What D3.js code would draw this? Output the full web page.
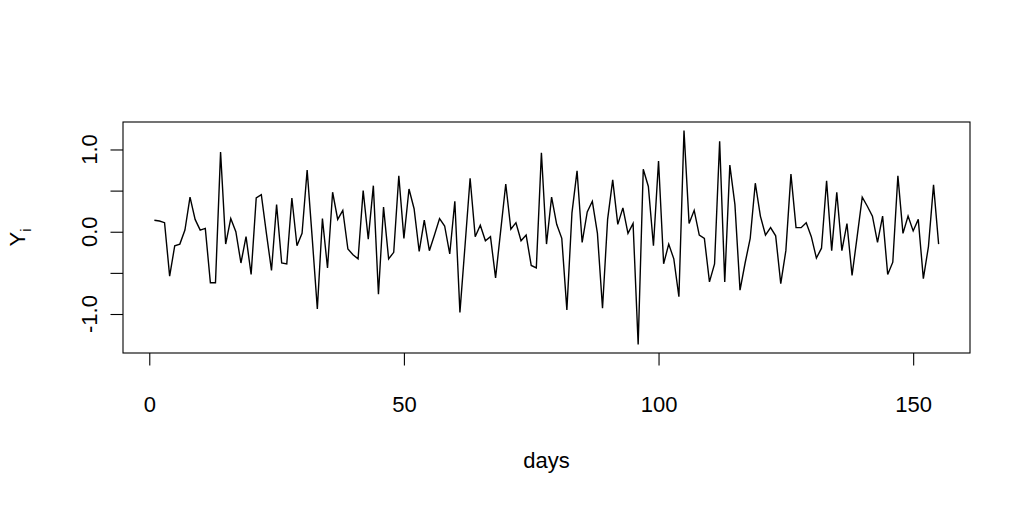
<!DOCTYPE html>
<html>
<head>
<meta charset="utf-8">
<script src="https://cdn.jsdelivr.net/npm/d3@7"></script>
<style>
  body { margin: 0; background: #fff; }
  svg text { font-family: "Liberation Sans", Arial, Helvetica, sans-serif; fill: #000; }
</style>
</head>
<body>
<svg id="chart" width="1034" height="507"></svg>
<script>
// daily values Y_i, day 1..155
const yValues = [
  0.14, 0.13, 0.11, -0.54, -0.17, -0.15, 0.02, 0.42, 0.15, 0.02,
  0.04, -0.62, -0.62, 0.97, -0.15, 0.16, 0.00, -0.38, -0.06, -0.52,
  0.41, 0.45, -0.02, -0.47, 0.33, -0.38, -0.39, 0.41, -0.17, -0.02,
  0.75, -0.08, -0.94, 0.16, -0.44, 0.48, 0.15, 0.26, -0.21, -0.28,
  -0.33, 0.50, -0.09, 0.56, -0.76, 0.30, -0.33, -0.25, 0.68, -0.08,
  0.52, 0.28, -0.24, 0.14, -0.23, -0.04, 0.16, 0.07, -0.27, 0.37,
  -0.98, -0.17, 0.65, -0.06, 0.08, -0.11, -0.06, -0.56, 0.01, 0.58,
  0.03, 0.11, -0.11, -0.04, -0.41, -0.44, 0.96, -0.15, 0.42, 0.09,
  -0.08, -0.95, 0.23, 0.74, -0.13, 0.24, 0.37, -0.02, -0.93, 0.15,
  0.63, 0.09, 0.29, -0.02, 0.10, -1.37, 0.76, 0.55, -0.17, 0.86,
  -0.39, -0.15, -0.33, -0.79, 1.23, 0.10, 0.26, -0.04, -0.08, -0.61,
  -0.39, 1.10, -0.61, 0.81, 0.33, -0.71, -0.38, -0.08, 0.59, 0.19,
  -0.04, 0.05, -0.05, -0.63, -0.23, 0.70, 0.05, 0.05, 0.11, -0.06,
  -0.32, -0.20, 0.62, -0.23, 0.48, -0.23, 0.10, -0.53, -0.06, 0.42,
  0.31, 0.19, -0.13, 0.19, -0.52, -0.37, 0.68, -0.02, 0.19, 0.01,
  0.15, -0.57, -0.18, 0.57, -0.15
];
const days = yValues.map((d, i) => i + 1);

const xTicks = [0, 50, 100, 150];
const yTicks = [-1, -0.5, 0, 0.5, 1];
const yTickLabels = ["-1.0", "", "0.0", "", "1.0"];

const svg = d3.select("#chart");
const plotLeft = 123, plotRight = 970, plotTop = 122, plotBottom = 353;
const fontSize = 22;

// R style: pad the data range by 4% on each side
function padded(ext) {
  const r = ext[1] - ext[0];
  return [ext[0] - 0.04 * r, ext[1] + 0.04 * r];
}

const x = d3.scaleLinear().domain(padded(d3.extent(days))).range([plotLeft, plotRight]);
const y = d3.scaleLinear().domain(padded(d3.extent(yValues))).range([plotBottom, plotTop]);

// series line
const line = d3.line()
  .x((d, i) => x(days[i]))
  .y(d => y(d));

svg.append("path")
  .datum(yValues)
  .attr("fill", "none")
  .attr("stroke", "#000")
  .attr("stroke-width", 1.4)
  .attr("stroke-linejoin", "miter")
  .attr("d", line);

// box
svg.append("rect")
  .attr("x", plotLeft).attr("y", plotTop)
  .attr("width", plotRight - plotLeft).attr("height", plotBottom - plotTop)
  .attr("fill", "none").attr("stroke", "#000").attr("stroke-width", 1.1);

// x axis
const xAxis = svg.append("g")
  .attr("transform", `translate(0,${plotBottom})`)
  .call(d3.axisBottom(x).tickValues(xTicks).tickSize(12.5).tickSizeOuter(0).tickPadding(31));
xAxis.select(".domain").remove();
xAxis.selectAll(".tick line").attr("stroke", "#000").attr("stroke-width", 1.1);
xAxis.selectAll(".tick text")
  .style("font-size", fontSize + "px")
  .attr("fill", "#000")
  .style("font-family", "'Liberation Sans', Arial, Helvetica, sans-serif");

// y axis
const yAxis = svg.append("g")
  .attr("transform", `translate(${plotLeft},0)`)
  .call(d3.axisLeft(y).tickValues(yTicks).tickSize(12.5).tickSizeOuter(0).tickFormat(""));
yAxis.select(".domain").remove();
yAxis.selectAll(".tick line").attr("stroke", "#000").attr("stroke-width", 1.1);

svg.append("g").selectAll("text")
  .data(yTicks)
  .join("text")
  .attr("transform", d => `translate(97,${y(d)}) rotate(-90)`)
  .attr("text-anchor", "middle")
  .style("font-size", fontSize + "px")
  .text((d, i) => yTickLabels[i]);

// axis titles
svg.append("text")
  .attr("x", (plotLeft + plotRight) / 2)
  .attr("y", 468)
  .attr("text-anchor", "middle")
  .style("font-size", fontSize + "px")
  .text("days");

const ylab = svg.append("text")
  .attr("transform", `translate(25,${(plotTop + plotBottom) / 2}) rotate(-90)`)
  .attr("text-anchor", "middle")
  .style("font-size", fontSize + "px");
ylab.append("tspan").text("Y");
ylab.append("tspan").attr("dy", 6).style("font-size", "15px").text("i");
</script>
</body>
</html>
